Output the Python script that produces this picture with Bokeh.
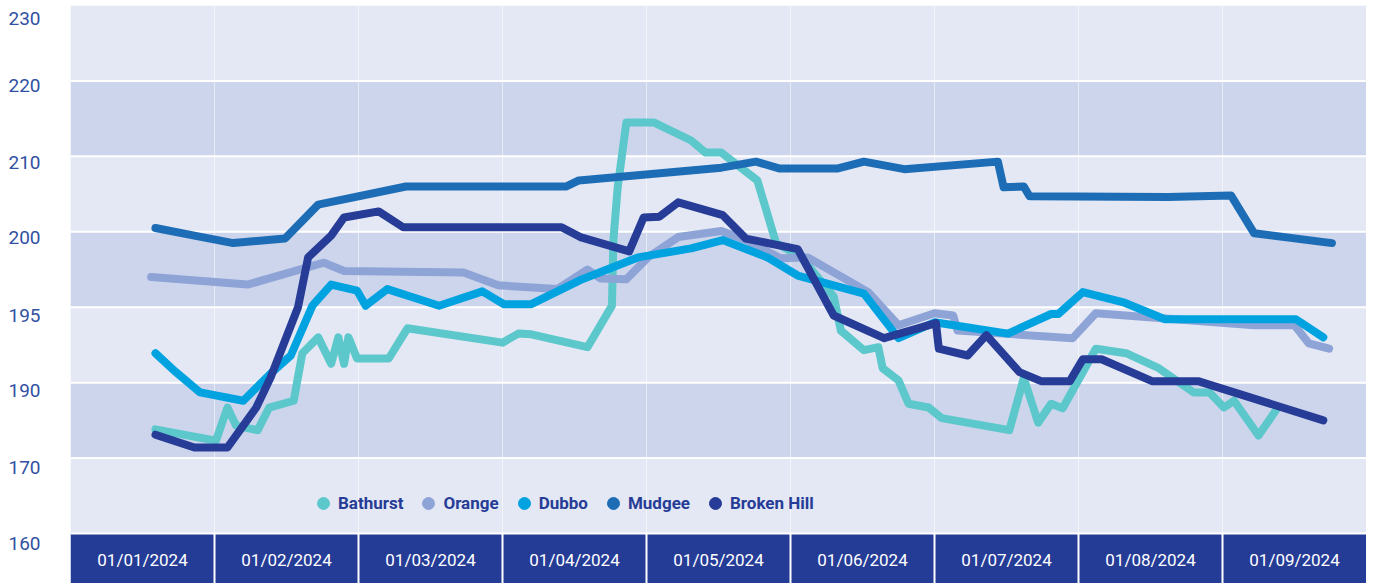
from bokeh.plotting import figure
from bokeh.models import FixedTicker, Legend, LegendItem, Range1d, ColumnDataSource
from bokeh.embed import file_html
from bokeh.resources import INLINE
from bokeh.core.properties import value

# ---------------- data ----------------
months = ["01/01/2024", "01/02/2024", "01/03/2024", "01/04/2024", "01/05/2024",
          "01/06/2024", "01/07/2024", "01/08/2024", "01/09/2024"]

# y-axis: label positions on the plotting scale and the labels printed there
y_tick_pos = [228.3, 219.4, 209.2, 199.3, 188.9, 179.0, 168.8, 158.7]
y_tick_labels = ["230", "220", "210", "200", "195", "190", "170", "160"]
band_edges = [160, 170, 180, 190, 200, 210, 220, 230]

series_names = ["Bathurst", "Orange", "Dubbo", "Mudgee", "Broken Hill"]

# x in months since 01/01/2024
bathurst_x = [0.59, 1.01, 1.09, 1.15, 1.30, 1.38, 1.55, 1.61, 1.72, 1.81, 1.86, 1.90, 1.93, 1.99,
              2.21, 2.34, 3.00, 3.11, 3.20, 3.59, 3.76, 3.77, 3.80, 3.86, 4.05, 4.31, 4.41, 4.52,
              4.77, 4.90, 5.07, 5.30, 5.35, 5.51, 5.61, 5.64, 5.75, 5.82, 5.96, 6.05, 6.52, 6.62,
              6.72, 6.81, 6.89, 7.12, 7.33, 7.55, 7.80, 7.91, 8.01, 8.08, 8.25, 8.37]
bathurst_y = [173.8, 172.3, 176.7, 174.3, 173.7, 176.7, 177.6, 183.9, 186.0, 182.5, 186.0, 182.5,
              186.0, 183.2, 183.2, 187.2, 185.3, 186.5, 186.4, 184.7, 190.2, 198.9, 205.9, 214.5,
              214.5, 212.1, 210.5, 210.5, 206.8, 198.5, 196.7, 191.4, 186.9, 184.3, 184.7, 181.9,
              180.3, 177.2, 176.7, 175.3, 173.7, 180.6, 174.7, 177.2, 176.6, 184.5, 183.9, 182.0,
              178.7, 178.7, 176.7, 177.6, 173.0, 176.3]

orange_x = [0.56, 1.23, 1.76, 1.90, 2.73, 2.97, 3.38, 3.59, 3.68, 3.86, 4.01, 4.22, 4.52, 4.69,
            4.93, 5.12, 5.54, 5.75, 6.00, 6.13, 6.16, 6.96, 7.12, 8.22, 8.50, 8.60, 8.74]
orange_y = [194.0, 193.0, 195.9, 194.8, 194.6, 192.9, 192.4, 195.0, 193.8, 193.7, 196.6, 199.3,
            200.1, 198.9, 196.5, 196.6, 192.0, 187.6, 189.2, 188.9, 186.9, 185.9, 189.2, 187.6,
            187.6, 185.2, 184.5]

dubbo_x = [0.59, 0.72, 0.90, 1.20, 1.39, 1.53, 1.68, 1.81, 1.99, 2.05, 2.20, 2.56, 2.86, 3.01,
           3.20, 3.54, 3.94, 4.31, 4.53, 4.84, 5.05, 5.51, 5.75, 6.00, 6.51, 6.81, 6.86, 7.03,
           7.32, 7.60, 8.51, 8.70]
dubbo_y = [183.9, 181.6, 178.7, 177.6, 181.2, 183.6, 190.2, 193.0, 192.2, 190.2, 192.4, 190.2,
           192.1, 190.4, 190.4, 193.6, 196.6, 197.8, 198.9, 196.6, 194.2, 191.8, 185.9, 188.0,
           186.5, 189.1, 189.1, 192.0, 190.6, 188.4, 188.4, 186.0]

mudgee_x = [0.59, 0.86, 1.13, 1.49, 1.72, 2.33, 3.44, 3.53, 4.52, 4.76, 4.92, 5.33, 5.51, 5.79,
            6.44, 6.48, 6.62, 6.66, 7.62, 8.06, 8.22, 8.76]
mudgee_y = [200.5, 199.5, 198.5, 199.1, 203.6, 206.0, 206.0, 206.8, 208.5, 209.3, 208.4, 208.4,
            209.3, 208.3, 209.3, 205.9, 206.0, 204.7, 204.6, 204.8, 199.8, 198.5]

broken_hill_x = [0.59, 0.86, 1.09, 1.29, 1.39, 1.58, 1.65, 1.81, 1.90, 2.14, 2.31, 3.41, 3.54,
                 3.88, 3.98, 4.09, 4.22, 4.53, 4.69, 5.05, 5.30, 5.65, 6.01, 6.03, 6.23, 6.36,
                 6.59, 6.74, 6.94, 7.03, 7.16, 7.51, 7.83, 8.70]
broken_hill_y = [173.1, 171.4, 171.4, 176.7, 180.7, 190.0, 196.6, 199.5, 201.9, 202.7, 200.6,
                 200.6, 199.3, 197.4, 201.9, 202.0, 203.9, 202.2, 199.1, 197.7, 188.9, 185.9,
                 187.9, 184.5, 183.6, 186.3, 181.4, 180.2, 180.2, 183.1, 183.1, 180.2, 180.2, 175.0]

# ---------------- styles ----------------
colors = ["#5cc8cb", "#8fa4d6", "#00a3e0", "#1d6db6", "#263c97"]
light_band = "#e3e8f4"
dark_band = "#cdd5ec"
axis_band = "#253c97"
label_blue = "#3150a2"

n_cols = len(months)
x_lo, x_hi = 0, n_cols
y_lo, y_hi = 153.37, 230.0

p = figure(width=1366, height=583, output_backend="svg", toolbar_location=None,
           x_range=Range1d(x_lo, x_hi), y_range=Range1d(y_lo, y_hi),
           x_axis_location=None, y_axis_location="left",
           min_border_left=70, min_border_right=0, min_border_top=5, min_border_bottom=0,
           outline_line_color=None, background_fill_color="white", border_fill_color="white")
p.grid.visible = False

# alternating horizontal bands
band_colors = [light_band if i % 2 == 0 else dark_band for i in range(len(band_edges) - 1)]
p.quad(left=x_lo, right=x_hi, bottom=band_edges[:-1], top=band_edges[1:],
       fill_color=band_colors, line_color=None)
# category band at the bottom
p.quad(left=x_lo, right=x_hi, bottom=y_lo - 5, top=band_edges[0], fill_color=axis_band, line_color=None)

# white gridlines
p.segment(x0=x_lo, x1=x_hi, y0=band_edges[:-1], y1=band_edges[:-1], line_color="white", line_width=2)
col_edges = list(range(1, n_cols))
p.segment(x0=col_edges, x1=col_edges, y0=band_edges[0], y1=band_edges[-1],
          line_color="white", line_alpha=0.55, line_width=1)
p.segment(x0=col_edges, x1=col_edges, y0=y_lo - 5, y1=band_edges[0], line_color="white", line_width=2)

# category labels
p.text(x=[i + 0.5 for i in range(n_cols)], y=[156.55] * n_cols, text=months,
       text_color="white", text_align="center", text_baseline="middle",
       text_font=value("Roboto"), text_font_size="17px")

# series lines
xs = [bathurst_x, orange_x, dubbo_x, mudgee_x, broken_hill_x]
ys = [bathurst_y, orange_y, dubbo_y, mudgee_y, broken_hill_y]
items = []
for name, c, x, y in zip(series_names, colors, xs, ys):
    src = ColumnDataSource(dict(x=x, y=y))
    p.line("x", "y", source=src, line_color=c, line_width=8, line_cap="round", line_join="round")
    # hidden marker renderer used only for the circular legend swatch
    r = p.scatter("x", "y", source=src, marker="circle", size=12, fill_color=c, line_color=c,
                  visible=False)
    items.append(LegendItem(label=name, renderers=[r]))

legend = Legend(items=items, orientation="horizontal", location=(238, 65),
                glyph_width=30, glyph_height=30, label_standoff=0, spacing=10,
                padding=0, margin=0, border_line_color=None, background_fill_alpha=0,
                inactive_fill_alpha=0,
                label_text_font="Roboto", label_text_font_style="bold",
                label_text_font_size="17px", label_text_color="#263c96")
p.add_layout(legend)

# y axis
yax = p.yaxis[0]
yax.ticker = FixedTicker(ticks=y_tick_pos)
yax.major_label_overrides = {t: l for t, l in zip(y_tick_pos, y_tick_labels)}
yax.axis_line_color = None
yax.major_tick_line_color = None
yax.minor_tick_line_color = None
yax.major_tick_out = 0
yax.major_tick_in = 0
yax.minor_tick_out = 0
yax.major_label_standoff = 30
yax.major_label_text_font = "Roboto"
yax.major_label_text_font_size = "19px"
yax.major_label_text_color = label_blue

open("out.html", "w").write(file_html(p, INLINE))
